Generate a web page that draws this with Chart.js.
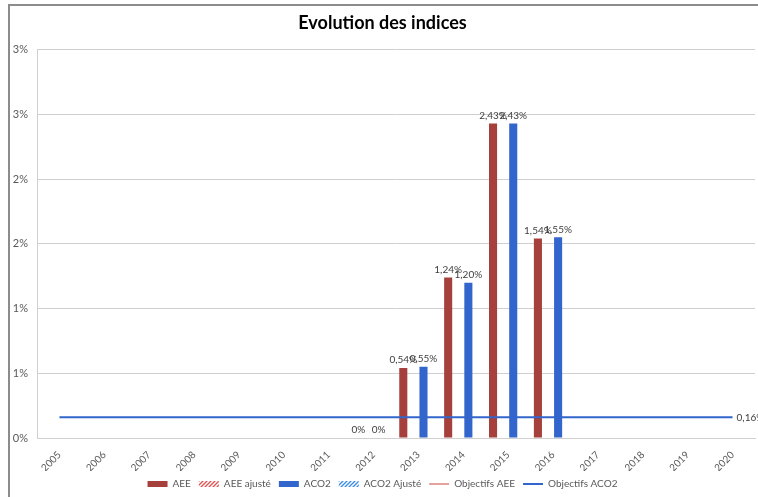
<!DOCTYPE html>
<html>
<head>
<meta charset="utf-8">
<script src="https://cdn.jsdelivr.net/npm/chart.js@4"></script>
<style>
  body { margin: 0; background: #fff; }
  #wrap {
    position: absolute; left: 8px; top: 4px;
    width: 750px; height: 493px;
    border-left: 2px solid #8c8c8c; border-top: 2px solid #8c8c8c;
  }
</style>
</head>
<body>
<div id="wrap"><canvas id="myChart"></canvas></div>
<script>
    "use strict";

    const years = ['2005', '2006', '2007', '2008', '2009', '2010', '2011', '2012',
                   '2013', '2014', '2015', '2016', '2017', '2018', '2019', '2020'];
    const aee = [null, null, null, null, null, null, null, 0, 0.54, 1.24, 2.43, 1.54, null, null, null, null];
    const aeeAjuste = [];
    const aco2 = [null, null, null, null, null, null, null, 0, 0.55, 1.20, 2.43, 1.55, null, null, null, null];
    const aco2Ajuste = [];
    const objectifsAee = [];
    const objectifsAco2 = [0.16, 0.16, 0.16, 0.16, 0.16, 0.16, 0.16, 0.16,
                           0.16, 0.16, 0.16, 0.16, 0.16, 0.16, 0.16, 0.16];
    const yTickLabels = ['0%', '1%', '1%', '2%', '2%', '3%', '3%'];

    const RED = '#a5403d';
    const BLUE = '#3366cc';
    const TEXT = '#595959';
    const FONT = "Lato, 'Open Sans', sans-serif";

    function hatch(color) {
        const c = document.createElement('canvas');
        c.width = 4; c.height = 4;
        const g = c.getContext('2d');
        g.strokeStyle = color;
        g.lineWidth = 1.4;
        g.beginPath();
        g.moveTo(-1, 5); g.lineTo(5, -1);
        g.moveTo(-1, 1); g.lineTo(1, -1);
        g.moveTo(3, 5); g.lineTo(5, 3);
        g.stroke();
        return g.createPattern(c, 'repeat');
    }

    function fmt(v) {
        return v === 0 ? '0%' : v.toFixed(2).replace('.', ',') + '%';
    }

    // value labels above bars + last point of the target line
    const valueLabels = {
        id: 'valueLabels',
        afterDatasetsDraw(chart) {
            const ctx = chart.ctx;
            ctx.save();
            ctx.font = "10px " + FONT;
            ctx.fillStyle = '#404040';
            chart.data.datasets.forEach((ds, i) => {
                const meta = chart.getDatasetMeta(i);
                if (ds.type === 'line') {
                    const n = ds.data.length;
                    if (!n) return;
                    const el = meta.data[n - 1];
                    ctx.textAlign = 'left';
                    ctx.textBaseline = 'middle';
                    ctx.fillText(fmt(ds.data[n - 1]), el.x + 4, el.y);
                    return;
                }
                meta.data.forEach((el, j) => {
                    const v = ds.data[j];
                    if (v === null || v === undefined) return;
                    ctx.textAlign = 'center';
                    ctx.textBaseline = 'bottom';
                    ctx.fillText(fmt(v), el.x, el.y - 3);
                });
            });
            ctx.restore();
        }
    };

    const ctx = document.getElementById('myChart').getContext('2d');
    const chart = new Chart(ctx, {
        data: {
            labels: years,
            datasets: [
                { type: 'bar', label: 'AEE', backgroundColor: RED, data: aee, order: 2 },
                { type: 'bar', label: 'AEE ajusté', backgroundColor: hatch('#e05555'), data: aeeAjuste, order: 2 },
                { type: 'bar', label: 'ACO2', backgroundColor: BLUE, data: aco2, order: 2 },
                { type: 'bar', label: 'ACO2 Ajusté', backgroundColor: hatch('#3d8fe6'), data: aco2Ajuste, order: 2 },
                { type: 'line', label: 'Objectifs AEE', borderColor: '#e6a09e', borderWidth: 2,
                  pointRadius: 0, data: objectifsAee, order: 1 },
                { type: 'line', label: 'Objectifs ACO2', borderColor: BLUE, borderWidth: 2,
                  pointRadius: 0, data: objectifsAco2, order: 1 }
            ]
        },
        options: {
            responsive: true,
            maintainAspectRatio: false,
            animation: false,
            categoryPercentage: 0.9,
            barPercentage: 0.8,
            layout: { padding: { left: 0, right: 5, top: 0, bottom: 0 } },
            plugins: {
                title: {
                    display: true,
                    text: 'Evolution des indices',
                    color: '#000',
                    font: { family: FONT, size: 18, weight: 'bold' },
                    padding: { top: 6, bottom: 16 }
                },
                legend: {
                    position: 'bottom',
                    labels: {
                        color: TEXT,
                        font: { family: FONT, size: 10 },
                        usePointStyle: true,
                        pointStyleWidth: 20,
                        boxHeight: 6,
                        padding: 8,
                        sort: (a, b) => a.datasetIndex - b.datasetIndex,
                        generateLabels: (c) => {
                            const items = Chart.defaults.plugins.legend.labels.generateLabels(c);
                            items.forEach(it => {
                                const ds = c.data.datasets[it.datasetIndex];
                                if (ds.type === 'line') {
                                    it.pointStyle = 'line';
                                    it.strokeStyle = ds.borderColor;
                                    it.lineWidth = 2;
                                } else {
                                    it.pointStyle = 'rect';
                                    it.fillStyle = ds.backgroundColor;
                                    it.lineWidth = 0;
                                }
                            });
                            return items;
                        }
                    }
                },
                tooltip: { enabled: false }
            },
            scales: {
                x: {
                    offset: true,
                    grid: { display: false },
                    border: { display: true, color: '#d0d0d0' },
                    ticks: {
                        color: TEXT,
                        font: { family: FONT, size: 10 },
                        minRotation: 45,
                        maxRotation: 45,
                        autoSkip: false
                    },
                    afterFit: s => { s.height = 33; }
                },
                y: {
                    min: 0,
                    max: 3,
                    grid: { color: '#cfcfcf', drawTicks: false },
                    border: { display: true, color: '#d0d0d0' },
                    ticks: {
                        stepSize: 0.5,
                        color: TEXT,
                        font: { family: FONT, size: 11 },
                        padding: 9,
                        callback: (v, i) => yTickLabels[i]
                    },
                    afterFit: s => { s.width = 27; }
                }
            }
        },
        plugins: [valueLabels]
    });
</script>
</body>
</html>
